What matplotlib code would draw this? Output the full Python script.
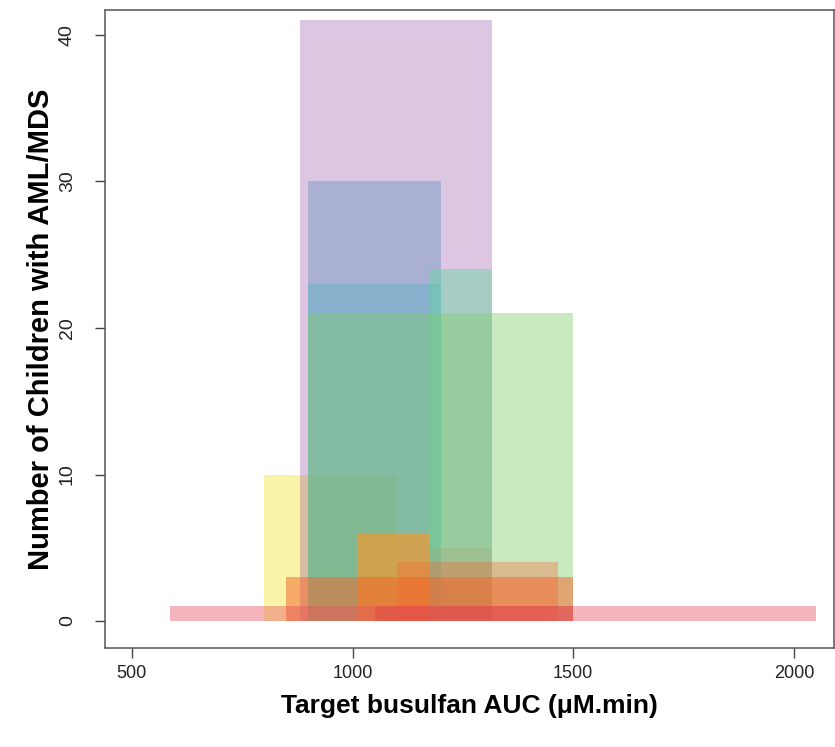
import matplotlib
matplotlib.use("Agg")
import matplotlib.pyplot as plt

# target AUC ranges (uM.min) and number of children per range
auc_low = [800, 880, 900, 900, 1175, 900, 1010, 1175, 1100, 850, 1050, 587]
auc_high = [1100, 1315, 1200, 1200, 1315, 1500, 1175, 1315, 1465, 1500, 1500, 2050]
n_children = [10, 41, 30, 23, 24, 21, 6, 5, 4, 3, 1, 1]

fills = ["#f5eb50", "#984ea3", "#377eb8", "#46b4be", "#64d7a0", "#80cc6c",
         "#fa9628", "#c88250", "#fa6432", "#f56428", "#dc2828", "#e65064"]
alphas = [0.50, 0.32, 0.30, 0.35, 0.45, 0.42, 0.65, 0.15, 0.35, 0.50, 0.35, 0.42]

plt.rcParams["font.family"] = ["Liberation Sans", "DejaVu Sans"]

fig = plt.figure(figsize=(8.35, 7.47), dpi=100)
ax = fig.add_axes([0.1257, 0.1325, 0.8731, 0.8541])

for lo, hi, n, c, a in zip(auc_low, auc_high, n_children, fills, alphas):
    ax.bar(lo, n, width=hi - lo, align="edge", color=c, alpha=a, lw=0)

ax.set_xlim(439, 2091)
ax.set_ylim(-1.84, 41.7)
ax.set_xticks([500, 1000, 1500, 2000])
ax.set_yticks([0, 10, 20, 30, 40])
ax.set_yticklabels(["0", "10", "20", "30", "40"], rotation=90, va="center")
ax.tick_params(direction="out", length=7, width=1, colors="#444444",
               labelcolor="#222222")
ax.tick_params(axis="x", labelsize=13, pad=5)
ax.tick_params(axis="y", labelsize=14, pad=14)

for s in ax.spines.values():
    s.set_color("#555555")
    s.set_linewidth(1.1)

ax.set_xlabel("Target busulfan AUC (μM.min)", fontsize=19, fontweight="bold", labelpad=9)
ax.set_ylabel("Number of Children with AML/MDS", fontsize=21, fontweight="bold", labelpad=3)

fig.savefig("out.png", dpi=100)
plt.close(fig)
